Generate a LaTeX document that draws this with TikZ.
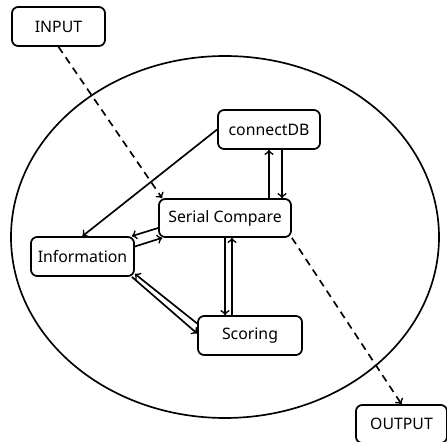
\documentclass[tikz,border=0pt]{standalone}
\usepackage{fontspec}
\setmainfont{Noto Sans}
\tikzset{
  box/.style={draw, line width=1pt, rounded corners=3.5pt, minimum height=0.78cm, font=\fontsize{9}{11}\selectfont},
  flow/.style={draw, line width=0.95pt, ->},
  io/.style={flow, dash pattern=on 4.2pt off 3pt},
}
\begin{document}
\begin{tikzpicture}
\useasboundingbox (0,0) rectangle (8.94,-8.84);
\draw[line width=0.95pt] (4.5,-4.74) ellipse [x radius=4.28, y radius=3.62];

\node[box, minimum width=1.86cm] (in) at (1.17,-0.53) {INPUT};
\node[box, minimum width=2.04cm] (db) at (5.38,-2.59) {connectDB};
\node[box, minimum width=2.64cm, minimum height=0.76cm] (sc) at (4.5,-4.36) {Serial Compare};
\node[box, minimum width=2.06cm] (info) at (1.65,-5.13) {Information};
\node[box, minimum width=2.08cm] (sco) at (5.0,-6.71) {Scoring};
\node[box, minimum width=1.82cm, minimum height=0.76cm] (out) at (8.03,-8.48) {OUTPUT};

\path[io] (in.south) -- ([xshift=0.08cm]sc.north west);
\path[io] (sc.south east) -- (out.north);

\path[flow] (db.west) -- (info.north);
\path[flow] ([xshift=0.88cm]sc.north) -- (db.south);
\path[flow] ([xshift=0.26cm]db.south) -- ([xshift=1.14cm]sc.north);
\path[flow] (sc.south) -- ([xshift=-0.5cm]sco.north);
\path[flow] ([xshift=-0.36cm]sco.north) -- ([xshift=0.14cm]sc.south);
\path[flow] ([yshift=-0.2cm]sc.west) -- ([xshift=-0.06cm]info.north east);
\path[flow] ([yshift=0.2cm]info.east) -- ([xshift=0.08cm]sc.south west);
\path[flow] ([xshift=-0.06cm]info.south east) -- ([yshift=0.04cm]sco.west);
\path[flow] ([yshift=0.24cm]sco.west) -- ([yshift=0.06cm]info.south east);
\end{tikzpicture}
\end{document}
